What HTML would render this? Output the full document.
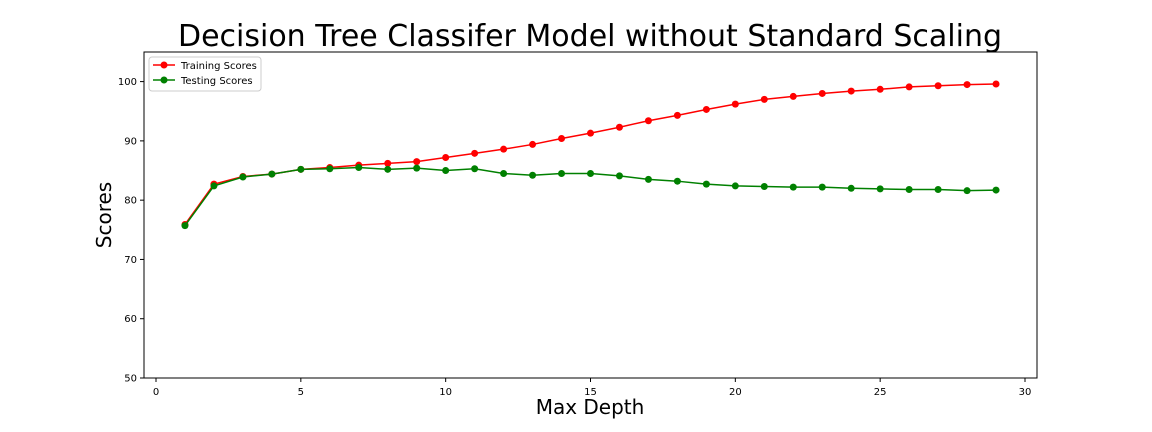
<!DOCTYPE html>
<html><head><meta charset="utf-8">
<style>
body{margin:0;background:#fff;}
svg{display:block;font-family:"DejaVu Sans","Liberation Sans",sans-serif;}
</style></head>
<body>
<svg id="chart" width="1152" height="432">
<text x="590" y="46" text-anchor="middle" font-size="30" fill="#000">Decision Tree Classifer Model without Standard Scaling</text>
<rect x="144" y="52" width="893" height="326" fill="none" stroke="#000" stroke-width="1"/>
<g id="ticks"></g>
<g id="series"></g>
<text x="590" y="414" text-anchor="middle" font-size="20">Max Depth</text>
<text transform="translate(111,215) rotate(-90)" text-anchor="middle" font-size="20">Scores</text>
<g>
<rect x="149" y="57" width="112" height="34" rx="3" fill="#fff" stroke="#ccc"/>
<g>
<line x1="153" y1="65" x2="175" y2="65" stroke="red" stroke-width="1.5"/><circle cx="164" cy="65" r="3.5" fill="red"/>
<text x="181" y="69" font-size="10">Training Scores</text></g>
<g>
<line x1="153" y1="80" x2="175" y2="80" stroke="green" stroke-width="1.5"/><circle cx="164" cy="80" r="3.5" fill="green"/>
<text x="181" y="84" font-size="10">Testing Scores</text></g>
</g>
</svg>
<script>
const depths=[1,2,3,4,5,6,7,8,9,10,11,12,13,14,15,16,17,18,19,20,21,22,23,24,25,26,27,28,29];
const trainScores=[75.9,82.7,84.0,84.4,85.2,85.5,85.9,86.2,86.5,87.2,87.9,88.6,89.4,90.4,91.3,92.3,93.4,94.3,95.3,96.2,97.0,97.5,98.0,98.4,98.7,99.1,99.3,99.5,99.6];
const testScores=[75.7,82.4,83.9,84.4,85.2,85.3,85.5,85.2,85.4,85.0,85.3,84.5,84.2,84.5,84.5,84.1,83.5,83.2,82.7,82.4,82.3,82.2,82.2,82.0,81.9,81.8,81.8,81.6,81.7];
const xTicks=[0,5,10,15,20,25,30];
const yTicks=[50,60,70,80,90,100];
const NS="http://www.w3.org/2000/svg";
const xs=v=>156+v*(1025-156)/30;
const ys=v=>378-(v-50)*(378-81.6)/50;
const tg=document.getElementById('ticks'),sg=document.getElementById('series');
function mk(tag,attrs,parent){const e=document.createElementNS(NS,tag);for(const k in attrs)e.setAttribute(k,attrs[k]);parent.appendChild(e);return e;}
xTicks.forEach(t=>{
 const l=mk('line',{x1:xs(t),x2:xs(t),y1:378,y2:382,stroke:'#000'},tg);
 
 
 const tx=mk('text',{x:xs(t),y:395,'text-anchor':'middle','font-size':10},tg);tx.textContent=t;
 
 
});
yTicks.forEach(t=>{
 const l=mk('line',{x1:140,x2:144,y1:ys(t),y2:ys(t),stroke:'#000'},tg);
 
 
 const tx=mk('text',{x:137,y:ys(t)+3.5,'text-anchor':'end','font-size':10},tg);tx.textContent=t;
 
 
});
function series(vals,color,name){
 const pl=mk('polyline',{points:vals.map((v,i)=>xs(depths[i])+','+ys(v)).join(' '),fill:'none',stroke:color,'stroke-width':1.5},sg);
 
 
 vals.forEach((v,i)=>{
  const c=mk('circle',{cx:xs(depths[i]),cy:ys(v),r:3.5,fill:color},sg);
  
  
 });
}
series(trainScores,'red','training-scores');
series(testScores,'green','testing-scores');
</script>
</body></html>
